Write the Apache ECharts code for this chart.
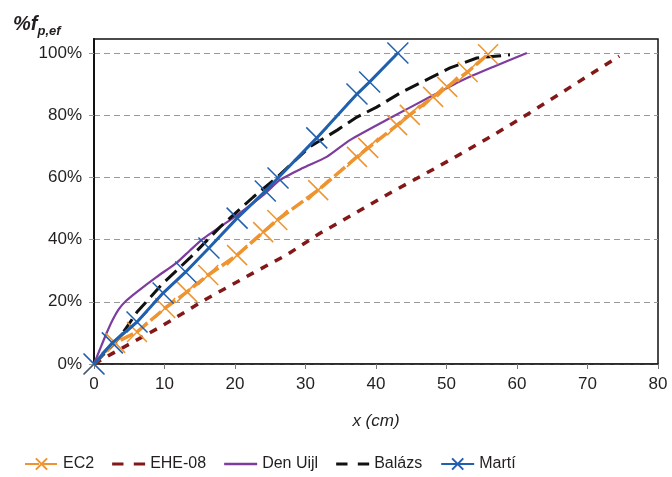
<!DOCTYPE html>
<html>
<head>
<meta charset="utf-8">
<script src="https://cdn.jsdelivr.net/npm/echarts@6/dist/echarts.min.js"></script>
<style>html,body{margin:0;padding:0;background:#fff}#c{width:672px;height:477px}</style>
</head>
<body>
<div id="c"></div>
<script>
// ---- data (x in cm, y in % of f_p,ef) ----
const seriesNames = ['EC2', 'EHE-08', 'Den Uijl', 'Balázs', 'Martí'];
const yTicks = [0, 20, 40, 60, 80, 100];
const xTicks = [0, 10, 20, 30, 40, 50, 60, 70, 80];

const ec2X = [0, 3.0, 6.1, 10.1, 13.2, 16.2, 20.3, 24.0, 26.0, 31.8, 37.3, 38.9, 43.0, 44.8, 48.1, 50.1, 53.0, 55.9];
const ec2Y = [0, 6.8, 10.3, 18.0, 23.2, 28.6, 35.0, 42.4, 46.3, 55.9, 66.6, 69.5, 76.8, 80.1, 85.9, 89.1, 93.9, 99.6];

const eheX = [0, 2.7, 9.4, 16.0, 22.6, 27.4, 32.1, 34.9, 42.0, 48.7, 56.2, 61.5, 66.5, 74.5];
const eheY = [0, 3.5, 11.9, 21.0, 29.3, 35.2, 42.1, 45.7, 55.0, 63.3, 73.0, 80.3, 87.5, 99.0];

const uijlX = [0, 0.8, 1.7, 2.6, 3.5, 4.6, 6.1, 8.9, 11.8, 13.6, 15.5, 20.3, 24.0, 26.4, 29.6, 33.0, 36.3, 42.0, 47.7, 52.3, 56.6, 61.4];
const uijlY = [0, 4.5, 9.5, 14.0, 17.6, 20.4, 23.2, 28.0, 32.7, 36.5, 40.3, 47.9, 54.3, 59.2, 63.0, 66.6, 72.0, 79.1, 85.9, 91.3, 95.5, 100];

const balX = [0, 3.7, 6.1, 9.8, 13.6, 17.9, 22.6, 26.0, 30.6, 34.5, 37.3, 40.1, 43.4, 47.7, 50.5, 54.3, 59.0];
const balY = [0, 8.7, 16.7, 26.0, 34.1, 44.1, 53.7, 60.1, 69.8, 75.2, 79.4, 82.6, 87.1, 92.0, 95.2, 98.4, 99.4];

const martiX = [0, 2.6, 6.1, 9.8, 13.0, 16.3, 20.3, 24.3, 26.1, 31.6, 37.3, 39.1, 43.1];
const martiY = [0, 6.8, 13.5, 22.8, 29.6, 37.3, 46.9, 55.6, 59.8, 72.7, 86.8, 90.7, 100];

const zip = (xs, ys) => xs.map((x, i) => [x, ys[i]]);

const colors = {
  ec2: '#EE9430',
  ehe: '#821818',
  uijl: '#7D3C9E',
  bal: '#111111',
  marti: '#2160AE'
};
const cross = 'path://M0,0L10,10M10,0L0,10';
const dashIcon = 'path://M0,0h11v3H0zM21,0h11v3H21z';
const solidIcon = 'path://M0,0h32v2.5H0z';
const font = 'Liberation Sans, Arial, Helvetica, sans-serif';

const chart = echarts.init(document.getElementById('c'), null, {renderer: 'canvas'});
chart.setOption({
  animation: false,
  backgroundColor: '#fff',
  textStyle: {fontFamily: font},
  title: {
    left: 8, top: 6,
    text: '{a|%f}{b|p,ef}',
    textStyle: {
      rich: {
        a: {fontFamily: font, fontStyle: 'italic', fontSize: 20, color: '#231f20'},
        b: {fontFamily: font, fontStyle: 'italic', fontSize: 13, color: '#231f20', padding: [14, 0, 0, 0]}
      }
    }
  },
  grid: {
    left: 94, right: 14, top: 39, bottom: 113,
    show: true, borderColor: '#111', borderWidth: 1.5, backgroundColor: 'transparent'
  },
  legend: {
    left: 19, top: 451,
    itemWidth: 33, itemHeight: 14, itemGap: 18,
    textStyle: {fontFamily: font, fontSize: 16, color: '#231f20'},
    data: [
      {name: 'EC2'},
      {name: 'EHE-08', icon: dashIcon},
      {name: 'Den Uijl', icon: solidIcon},
      {name: 'Balázs', icon: dashIcon},
      {name: 'Martí'}
    ]
  },
  xAxis: {
    type: 'value', min: 0, max: 80, interval: 10,
    name: 'x (cm)', nameLocation: 'middle', nameGap: 49,
    nameTextStyle: {fontFamily: font, fontSize: 17, fontStyle: 'italic', color: '#231f20'},
    axisLine: {show: true, lineStyle: {color: '#222', width: 1.5}},
    axisTick: {show: true, inside: false, length: 5, lineStyle: {color: '#777', width: 1}},
    axisLabel: {fontFamily: font, fontSize: 17, color: '#231f20', margin: 12},
    splitLine: {show: false}
  },
  yAxis: {
    type: 'value', min: 0, max: 104.5,
    axisLine: {show: true, lineStyle: {color: '#111', width: 2}},
    axisTick: {show: true, length: 5, customValues: yTicks, lineStyle: {color: '#999', width: 1}},
    axisLabel: {
      customValues: yTicks,
      fontFamily: font, fontSize: 17, color: '#231f20', margin: 12,
      formatter: v => (yTicks.indexOf(v) >= 0 ? v + '%' : '')
    },
    splitLine: {show: true, lineStyle: {color: '#999', type: [6, 4], width: 1}}
  },
  series: [
    {
      name: 'EC2', type: 'line', z: 3,
      data: zip(ec2X, ec2Y),
      symbol: cross, symbolSize: 20, showSymbol: true,
      lineStyle: {color: colors.ec2, width: 3.5, type: [14, 4]},
      itemStyle: {color: colors.ec2, borderColor: colors.ec2, borderWidth: 1.5}
    },
    {
      name: 'EHE-08', type: 'line', z: 2,
      data: zip(eheX, eheY),
      symbol: 'none',
      lineStyle: {color: colors.ehe, width: 3.5, type: [8, 8]},
      itemStyle: {color: colors.ehe}
    },
    {
      name: 'Den Uijl', type: 'line', z: 2,
      data: zip(uijlX, uijlY),
      symbol: 'none', smooth: 0.2,
      lineStyle: {color: colors.uijl, width: 2.2},
      itemStyle: {color: colors.uijl}
    },
    {
      name: 'Balázs', type: 'line', z: 3,
      data: zip(balX, balY),
      symbol: 'none',
      lineStyle: {color: colors.bal, width: 3, type: [15, 7]},
      itemStyle: {color: colors.bal}
    },
    {
      name: 'Martí', type: 'line', z: 4,
      data: zip(martiX, martiY),
      symbol: cross, symbolSize: 21, showSymbol: true,
      lineStyle: {color: colors.marti, width: 3},
      itemStyle: {color: colors.marti, borderColor: colors.marti, borderWidth: 1.5}
    }
  ]
});
</script>
</body>
</html>
